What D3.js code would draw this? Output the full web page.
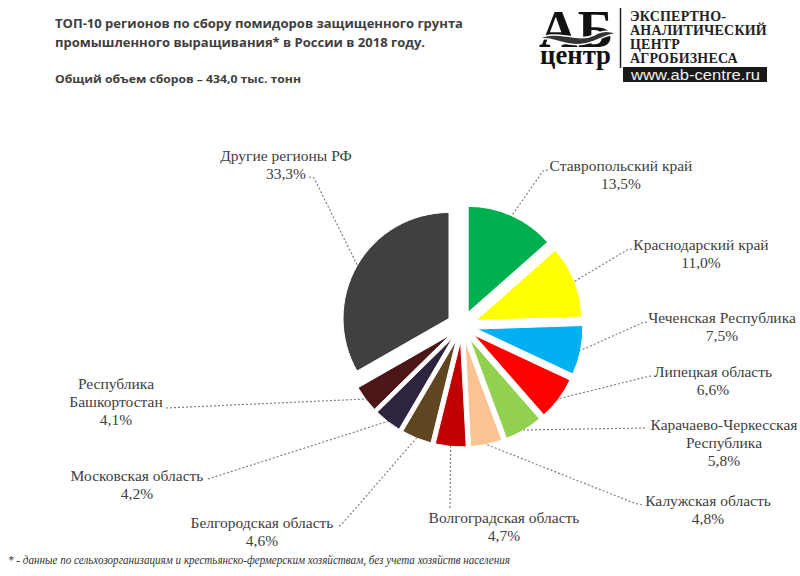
<!DOCTYPE html>
<html><head><meta charset="utf-8">
<script src="https://cdn.jsdelivr.net/npm/d3@7/dist/d3.min.js"></script>
<style>body{margin:0;background:#fff}svg{display:block}</style>
</head><body>
<svg id="c" width="800" height="576"></svg>
<script>
// ---- data ----
const regions = ["Ставропольский край","Краснодарский край","Чеченская Республика","Липецкая область","Карачаево-Черкесская Республика","Калужская область","Волгоградская область","Белгородская область","Московская область","Республика Башкортостан","Другие регионы РФ"];
const shares = [13.5, 11.0, 7.5, 6.6, 5.8, 4.8, 4.7, 4.6, 4.2, 4.1, 33.3];
const shareLabels = ["13,5%","11,0%","7,5%","6,6%","5,8%","4,8%","4,7%","4,6%","4,2%","4,1%","33,3%"];
const colors = ["#00b050","#ffff00","#00b0f0","#ff0000","#92d050","#f9c394","#c00000","#5f4520","#2e2440","#4c1518","#404040"];

// ---- layout of labels (positions only) ----
const labelLayout = [
  {lines:["Ставропольский край"], x:621, y:171, anchor:[[548,170],[543,171]]},
  {lines:["Краснодарский край"], x:701, y:250, anchor:[[632,249],[627,250]]},
  {lines:["Чеченская Республика"], x:722, y:323, anchor:[[647,322],[642,323]]},
  {lines:["Липецкая область"], x:713, y:377, anchor:[[651,376],[646,377]]},
  {lines:["Карачаево-Черкесская","Республика"], x:724, y:430, anchor:[[645,428]]},
  {lines:["Калужская область"], x:708, y:506, anchor:[[642,505],[634,503]]},
  {lines:["Волгоградская область"], x:504, y:523, anchor:[[450,508]]},
  {lines:["Белгородская область"], x:262, y:528, anchor:[[339,526],[342,524]]},
  {lines:["Московская область"], x:137, y:481, anchor:[[208,479]]},
  {lines:["Республика","Башкортостан"], x:116, y:389, anchor:[[166,408]]},
  {lines:["Другие регионы РФ"], x:286, y:161, anchor:[[309,177],[314,178]]}
];

const svg = d3.select("#c");
const cx = 462, cy = 326, R = 106, explode = 15, lh = 18;
const textColor = "#404040";

// ---- title ----
svg.append("text").attr("x",55).attr("y",28).attr("font-family","Open Sans, sans-serif").attr("font-weight",700)
  .attr("font-size",13).attr("fill",textColor).attr("textLength",408).attr("lengthAdjust","spacingAndGlyphs")
  .text("ТОП-10 регионов по сбору помидоров защищенного грунта");
svg.append("text").attr("x",55).attr("y",47).attr("font-family","Open Sans, sans-serif").attr("font-weight",700)
  .attr("font-size",13).attr("fill",textColor).attr("textLength",370).attr("lengthAdjust","spacingAndGlyphs")
  .text("промышленного выращивания* в России в 2018 году.");
svg.append("text").attr("x",55).attr("y",83).attr("font-family","Open Sans, sans-serif").attr("font-weight",700)
  .attr("font-size",10.5).attr("fill",textColor).attr("textLength",246).attr("lengthAdjust","spacingAndGlyphs")
  .text("Общий  объем  сборов  – 434,0 тыс.  тонн");

// ---- logo ----
const logo = svg.append("g");
const mark = logo.append("text").attr("font-family","Liberation Serif, serif").attr("font-weight",700).attr("fill","#111");
mark.append("tspan").attr("x",539).attr("y",47).attr("font-size",52).attr("textLength",74).attr("lengthAdjust","spacingAndGlyphs").text("АБ");
mark.append("tspan").attr("x",540).attr("y",64).attr("font-size",27).attr("textLength",71).attr("lengthAdjust","spacingAndGlyphs").text("центр");
logo.append("path").attr("d","M536,40 C556,27 576,44 594,35 C604,29 612,31 618,34 C606,33 598,42 584,44 C566,48 552,35 536,40 Z")
  .attr("fill","#333").attr("stroke","#fff").attr("stroke-width",1.5);
logo.append("line").attr("x1",620.5).attr("x2",620.5).attr("y1",8).attr("y2",68).attr("stroke","#222").attr("stroke-width",1.5);
["ЭКСПЕРТНО-","АНАЛИТИЧЕСКИЙ","ЦЕНТР","АГРОБИЗНЕСА"].forEach((t,i)=>{
  logo.append("text").attr("x",630).attr("y",20.5+i*14.2).attr("font-family","Liberation Serif, serif").attr("font-weight",700)
    .attr("font-size",14).attr("fill","#222").attr("letter-spacing",0.2).text(t);
});
logo.append("rect").attr("x",623).attr("y",67).attr("width",144).attr("height",15).attr("fill","#1a1a1a");
logo.append("text").attr("x",631).attr("y",79.5).attr("font-family","Liberation Sans, sans-serif")
  .attr("font-size",14).attr("fill","#f2f2f2").attr("textLength",129).attr("lengthAdjust","spacingAndGlyphs").text("www.ab-centre.ru");

// ---- pie ----
const pie = d3.pie().sort(null).value(d=>d)(shares);
const arc = d3.arc().innerRadius(0).outerRadius(R);
const g = svg.append("g").attr("transform",`translate(${cx},${cy})`);
pie.forEach((p,i)=>{
  const mid = (p.startAngle+p.endAngle)/2;
  p.dx = explode*Math.sin(mid); p.dy = -explode*Math.cos(mid); p.mid = mid;
});
g.selectAll("path.slice").data(pie).join("path").attr("class","slice")
  .attr("d",arc).attr("transform",p=>`translate(${p.dx},${p.dy})`)
  .attr("fill",(p,i)=>colors[i]).attr("stroke","#fff").attr("stroke-width",1);

// ---- leader lines + labels ----
const lineGen = d3.line();
labelLayout.forEach((L,i)=>{
  const p = pie[i];
  const sx = cx + p.dx + R*Math.sin(p.mid), sy = cy + p.dy - R*Math.cos(p.mid);
  const pts = L.anchor.concat([[sx,sy]]);
  svg.append("path").attr("d",lineGen(pts)).attr("fill","none").attr("stroke","#7f7f7f")
    .attr("stroke-width",1.2).attr("stroke-dasharray","2,2");
  const t = svg.append("text").attr("font-family","Liberation Serif, serif").attr("font-size",15.5)
    .attr("fill",textColor).attr("text-anchor","middle");
  const lines = L.lines.concat([shareLabels[i]]);
  lines.forEach((s,k)=>{
    t.append("tspan").attr("x",L.x).attr("y",L.y + k*lh).text(s);
  });
});

// ---- footnote ----
svg.append("text").attr("x",8).attr("y",564).attr("font-family","Liberation Serif, serif").attr("font-style","italic")
  .attr("font-size",11.5).attr("fill","#333").attr("textLength",502).attr("lengthAdjust","spacingAndGlyphs")
  .text("* - данные по сельхозорганизациям и крестьянско-фермерским  хозяйствам, без учета хозяйств населения");
</script>
</body></html>
